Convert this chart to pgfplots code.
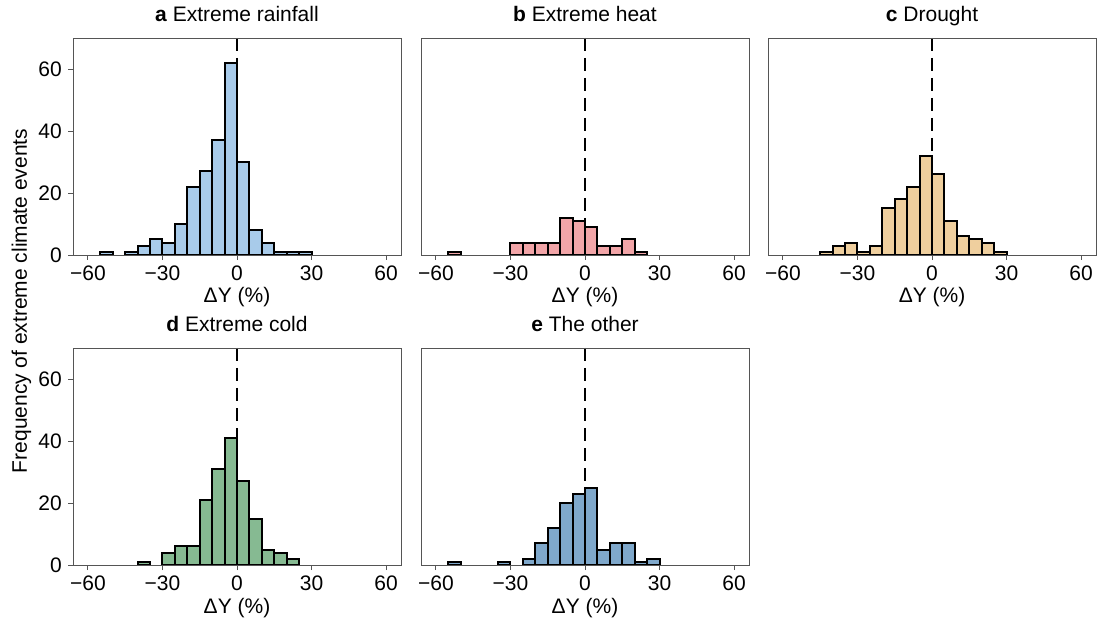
\documentclass[border=0pt]{standalone}
\usepackage{fontspec}
\setmainfont{Liberation Sans}
\usepackage{pgfplots}
\pgfplotsset{compat=1.18}
\definecolor{colA}{HTML}{A8CBEA}
\definecolor{colB}{HTML}{F2A5A8}
\definecolor{colC}{HTML}{EFCF9E}
\definecolor{colD}{HTML}{86BA92}
\definecolor{colE}{HTML}{7FA8CB}
\definecolor{bordercol}{HTML}{555555}
\newcommand{\fs}{\fontsize{21pt}{25pt}\selectfont}

\pgfplotsset{
  panel/.style={
    scale only axis, width=328pt, height=217pt,
    xmin=-66, xmax=66, ymin=0, ymax=70,
    xtick={-60,-30,0,30,60},
    xticklabels={−60,−30,0,30,60},
    ytick={0,20,40,60},
    yticklabels={0,20,40,60},
    tick pos=left,
    tick align=outside,
    major tick length=5pt,
    axis line style={draw=bordercol, line width=0.9pt},
    every tick/.append style={draw=bordercol, line width=0.9pt},
    tick label style={font=\fs, inner sep=0pt},
    xticklabel style={anchor=north, yshift=-6pt},
    yticklabel style={anchor=east, xshift=-6pt},
    title style={font=\fs, at={(0.5,1)}, anchor=base, yshift=10pt},
    xlabel={ΔY (\%)},
    xlabel style={font=\fs, at={(axis description cs:0.5,0)}, anchor=base, yshift=-48pt},
    axis on top,
  },
  noy/.style={ytick=\empty},
  bars/.style={ybar, bar width=5, draw=black, line width=2pt, fill=#1},
  zline/.style={black, line width=2.2pt, dash pattern=on 13pt off 7pt},
}

\begin{document}
\begin{tikzpicture}
\path[use as bounding box] (0,0) rectangle (1099pt,626pt);

% a
\begin{axis}[panel, at={(73pt,371pt)}, title={\textbf{a} Extreme rainfall}]
\addplot[zline] coordinates {(0,70) (0,0)};
\addplot[bars=colA] coordinates {
(-52.5,1) (-42.5,1) (-37.5,3) (-32.5,5) (-27.5,4) (-22.5,10) (-17.5,22) (-12.5,27)
(-7.5,37) (-2.5,62) (2.5,30) (7.5,8) (12.5,4) (17.5,1) (22.5,1) (27.5,1)};
\end{axis}

% b
\begin{axis}[panel, noy, at={(421pt,371pt)}, title={\textbf{b} Extreme heat}]
\addplot[zline] coordinates {(0,70) (0,0)};
\addplot[bars=colB] coordinates {
(-52.5,1) (-27.5,4) (-22.5,4) (-17.5,4) (-12.5,4) (-7.5,12) (-2.5,11) (2.5,9)
(7.5,3) (12.5,3) (17.5,5) (22.5,1)};
\end{axis}

% c
\begin{axis}[panel, noy, at={(768pt,371pt)}, title={\textbf{c} Drought}]
\addplot[zline] coordinates {(0,70) (0,0)};
\addplot[bars=colC] coordinates {
(-42.5,1) (-37.5,3) (-32.5,4) (-27.5,1) (-22.5,3) (-17.5,15) (-12.5,18) (-7.5,22)
(-2.5,32) (2.5,26) (7.5,11) (12.5,6) (17.5,5) (22.5,4) (27.5,1)};
\end{axis}

% d
\begin{axis}[panel, at={(73pt,61pt)}, title={\textbf{d} Extreme cold}]
\addplot[zline] coordinates {(0,70) (0,0)};
\addplot[bars=colD] coordinates {
(-37.5,1) (-27.5,4) (-22.5,6) (-17.5,6) (-12.5,21) (-7.5,31) (-2.5,41) (2.5,27)
(7.5,15) (12.5,5) (17.5,4) (22.5,2)};
\end{axis}

% e
\begin{axis}[panel, noy, at={(421pt,61pt)}, title={\textbf{e} The other}]
\addplot[zline] coordinates {(0,70) (0,0)};
\addplot[bars=colE] coordinates {
(-52.5,1) (-32.5,1) (-22.5,2) (-17.5,7) (-12.5,12) (-7.5,20) (-2.5,23) (2.5,25)
(7.5,5) (12.5,7) (17.5,7) (22.5,1) (27.5,2)};
\end{axis}

\node[rotate=90, anchor=base, font=\fs] at (27pt,325pt) {Frequency of extreme climate events};
\end{tikzpicture}
\end{document}
